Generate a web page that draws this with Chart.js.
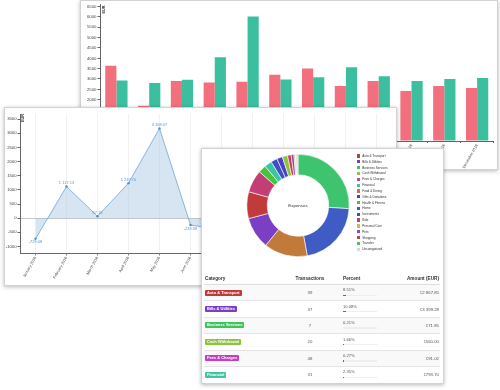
<!DOCTYPE html>
<html>
<head>
<meta charset="utf-8">
<script src="https://cdn.jsdelivr.net/npm/chart.js@4.4.1/dist/chart.umd.min.js"></script>
<style>
    html, body { margin: 0; padding: 0; background: #fff; width: 500px; height: 390px; overflow: hidden; }
    body { font-family: "Liberation Sans", Arial, sans-serif; position: relative; }
    .panel { position: absolute; background: #fff; border: 1px solid #d2d2d2; box-shadow: 0 1px 4px rgba(0, 0, 0, 0.28); overflow: hidden; box-sizing: border-box; }
    #barPanel { left: 80px; top: 0; width: 418px; height: 170px; }
    #linePanel { left: 4px; top: 107px; width: 393px; height: 179px; }
    #piePanel { left: 201px; top: 148px; width: 243px; height: 236px; }
    canvas { position: absolute; }
    #legend { position: absolute; left: 154.7px; top: 4.1px; font-size: 3.1px; color: #333; }
    #legend div { display: flex; align-items: center; height: 5.83px; white-space: nowrap; }
    #legend span.box { width: 3.3px; height: 3.3px; margin-right: 2.3px; display: inline-block; }
    #catTable { position: absolute; left: 2px; top: 123px; width: 236px; border-collapse: collapse; table-layout: fixed; }
    #catTable th { font-weight: bold; font-size: 4.7px; color: #333; height: 12px; border-bottom: 1.5px solid #ddd; padding: 0 1px; text-align: left; }
    #catTable td { height: 15.4px; border-top: 0.6px solid #e4e4e4; padding: 0 1px; vertical-align: middle; font-size: 4.3px; color: #555; }
    #catTable tr.odd td { background: #f9f9f9; }
    .badge { display: inline-block; color: #fff; font-weight: bold; font-size: 4px; height: 6px; line-height: 6px; padding: 0 2px; border-radius: 1px; white-space: nowrap; }
    .pct { font-size: 4.1px; color: #555; line-height: 4.6px; margin-top: -1px; }
    .track { width: 34px; height: 1.3px; background: #eee; margin-top: 1.6px; }
    .fill { height: 100%; background: #337ab7; }
    .amount { color: #e8677a; font-size: 4.6px; }
</style>
</head>
<body>
<div class="panel" id="barPanel">
    <canvas id="barChart" width="416" height="168" style="left:0;top:0;width:416px;height:168px"></canvas>
</div>
<div class="panel" id="linePanel">
    <canvas id="lineChart" width="391" height="177" style="left:0;top:0;width:391px;height:177px"></canvas>
</div>
<div class="panel" id="piePanel">
    <canvas id="pieChart" width="106" height="107" style="left:43px;top:3px;width:106px;height:107px"></canvas>
    <div id="legend"></div>
    <table id="catTable">
        <colgroup><col style="width:87px"><col style="width:38px"><col style="width:62px"><col style="width:49px"></colgroup>
        <thead><tr><th>Category</th><th style="text-align:center">Transactions</th><th style="padding-left:14px">Percent</th><th style="text-align:right">Amount (EUR)</th></tr></thead>
        <tbody id="catRows"></tbody>
    </table>
</div>
<script>
    const months = ["January 2018", "February 2018", "March 2018", "April 2018", "May 2018", "June 2018",
        "July 2018", "August 2018", "September 2018", "October 2018", "November 2018", "December 2018"];
    const expenseByMonth = [3635, 1700, 2900, 2830, 2865, 3200, 3505, 2657, 2898, 2417, 2657, 2561];
    const incomeByMonth = [2930, 2800, 2962, 4052, 6024, 2978, 3090, 3571, 3138, 2898, 2994, 3042];
    const balanceByMonth = [-729.08, 1117.13, 67.18, 1237.70, 3168.07, -239.38, -415, 914, 240, 481, 337, 481];
    const barTickValues = [0, 500, 1000, 1500, 2000, 2500, 3000, 3500, 4000, 4500, 5000, 5500, 6000, 6500];
    const lineTickValues = [-1000, -500, 0, 500, 1000, 1500, 2000, 2500, 3000, 3500];

    const categories = ["Auto & Transport", "Bills & Utilities", "Business Services", "Cash Withdrawal", "Fees & Charges",
        "Financial", "Food & Dining", "Gifts & Donations", "Health & Fitness", "Home", "Investments", "Kids",
        "Personal Care", "Pets", "Shopping", "Transfer", "Uncategorized"];
    const categoryAmounts = [2867.85, 3399.28, 71.85, 560.00, 91.02, 793.70, 4650, 610, 840, 7150, 680, 2400,
        150, 300, 380, 8800, 120];
    const categoryColors = ["#c23b3b", "#7b3fc4", "#3ec45c", "#8cc43e", "#c43fc0", "#3ec4a2", "#c27a3a", "#4b3fc4",
        "#46c43e", "#3e5cc4", "#3e4fc4", "#c43e76", "#c4c23e", "#9a3fc4", "#c43e4c", "#3ec46e", "#d2dade"];

    // only the first rows of the table are in view
    const tableTransactions = [39, 37, 7, 20, 48, 31];
    const tablePercents = [8.51, 10.08, 0.21, 1.66, 0.27, 2.35];

    const fontFamily = '"Liberation Sans", Arial, sans-serif';
    Chart.defaults.font.family = fontFamily;
    Chart.defaults.color = "#444";

    const formatAmount = (value) => {
        const [whole, cents] = Math.abs(value).toFixed(2).split(".");
        const grouped = whole.replace(/\B(?=(\d{3})+(?!\d))/g, " ");
        return (value < 0 ? "-" : "") + grouped + "." + cents;
    };

    const useTicks = (values) => (scale) => {
        scale.ticks = values.map((value) => ({ value }));
    };

    const unitLabel = (dx, dy) => ({
        id: "unitLabel",
        afterDraw(chart) {
            const { ctx, chartArea } = chart;
            ctx.save();
            ctx.translate(chartArea.left + dx, chartArea.top + dy);
            ctx.rotate(-Math.PI / 2);
            ctx.font = `bold 3.8px ${fontFamily}`;
            ctx.fillStyle = "#222";
            ctx.textAlign = "right";
            ctx.textBaseline = "middle";
            ctx.fillText("EUR", 0, 0);
            ctx.restore();
        }
    });

    // income vs expense bars
    new Chart(document.getElementById("barChart"), {
        type: "bar",
        data: {
            labels: months,
            datasets: [
                { label: "Expense", data: expenseByMonth, backgroundColor: "#f2707d" },
                { label: "Income", data: incomeByMonth, backgroundColor: "#3bbf9f" }
            ]
        },
        options: {
            responsive: false,
            animation: false,
            devicePixelRatio: 1,
            layout: { padding: { left: 0, right: 3.5, top: 3, bottom: 0 } },
            datasets: { bar: { categoryPercentage: 0.68, barPercentage: 1 } },
            plugins: { legend: { display: false }, tooltip: { enabled: false } },
            scales: {
                x: {
                    grid: { drawOnChartArea: false, tickLength: 2, tickColor: "#666" },
                    border: { color: "#666", width: 1 },
                    ticks: { font: { size: 3.8 }, minRotation: 60, maxRotation: 60, padding: 0.5, autoSkip: false },
                    afterFit: (s) => { s.height = 28; }
                },
                y: {
                    min: 0,
                    max: 6600,
                    grid: { drawOnChartArea: false, tickLength: 2.5, tickColor: "#666" },
                    border: { color: "#666", width: 1 },
                    ticks: { font: { size: 4.3 }, padding: 1, autoSkip: false, callback: (v) => String(v) },
                    afterBuildTicks: useTicks(barTickValues),
                    afterFit: (s) => { s.width = 19; }
                }
            }
        },
        plugins: [unitLabel(3.5, 1)]
    });

    // monthly balance line
    const pointLabels = {
        id: "pointLabels",
        afterDatasetsDraw(chart) {
            const { ctx } = chart;
            const meta = chart.getDatasetMeta(0);
            ctx.save();
            ctx.font = `4px ${fontFamily}`;
            ctx.fillStyle = "#5a95cf";
            ctx.textAlign = "center";
            meta.data.forEach((pt, i) => {
                const v = balanceByMonth[i];
                ctx.textBaseline = v < 0 ? "top" : "bottom";
                ctx.fillText(formatAmount(v), pt.x, v < 0 ? pt.y + 1.5 : pt.y - 1.5);
            });
            ctx.restore();
        }
    };

    new Chart(document.getElementById("lineChart"), {
        type: "line",
        data: {
            labels: months,
            datasets: [
                {
                    data: balanceByMonth,
                    borderColor: "#7eadda",
                    backgroundColor: "rgba(160, 193, 226, 0.42)",
                    fill: "origin",
                    tension: 0,
                    borderWidth: 0.9,
                    pointRadius: 1.2,
                    pointBackgroundColor: "#4f8cc9",
                    pointBorderWidth: 0
                }
            ]
        },
        options: {
            responsive: false,
            animation: false,
            devicePixelRatio: 1,
            layout: { padding: { left: 0, right: 3, top: 6, bottom: 0 } },
            plugins: { legend: { display: false }, tooltip: { enabled: false } },
            scales: {
                x: {
                    offset: true,
                    grid: { offset: false, color: "#efefef", lineWidth: 0.8, tickLength: 2.5, tickColor: "#666" },
                    border: { color: "#666", width: 1 },
                    ticks: { font: { size: 3.8 }, minRotation: 60, maxRotation: 60, padding: 0.5, autoSkip: false },
                    afterFit: (s) => { s.height = 32; }
                },
                y: {
                    min: -1230,
                    max: 3680,
                    grid: {
                        color: (c) => (c.tick && c.tick.value === 0 ? "#c8c8c8" : "rgba(0,0,0,0)"),
                        tickLength: 2.5,
                        tickColor: "#666"
                    },
                    border: { color: "#666", width: 1 },
                    ticks: { font: { size: 4.2 }, padding: 1, autoSkip: false, callback: (v) => String(v) },
                    afterBuildTicks: useTicks(lineTickValues),
                    afterFit: (s) => { s.width = 15; }
                }
            }
        },
        plugins: [unitLabel(2.5, 0), pointLabels]
    });

    // expenses by category, largest slice first
    const order = categories.map((_, i) => i).sort((a, b) => categoryAmounts[b] - categoryAmounts[a]);

    const centerText = {
        id: "centerText",
        afterDraw(chart) {
            const { ctx, chartArea } = chart;
            ctx.save();
            ctx.font = `4.4px ${fontFamily}`;
            ctx.fillStyle = "#333";
            ctx.textAlign = "center";
            ctx.textBaseline = "middle";
            ctx.fillText("Expenses", (chartArea.left + chartArea.right) / 2, (chartArea.top + chartArea.bottom) / 2);
            ctx.restore();
        }
    };

    new Chart(document.getElementById("pieChart"), {
        type: "doughnut",
        data: {
            labels: order.map((i) => categories[i]),
            datasets: [
                {
                    data: order.map((i) => categoryAmounts[i]),
                    backgroundColor: order.map((i) => categoryColors[i]),
                    borderColor: "#fff",
                    borderWidth: 0.6
                }
            ]
        },
        options: {
            responsive: false,
            animation: false,
            devicePixelRatio: 1,
            cutout: "60%",
            layout: { padding: 1.5 },
            plugins: { legend: { display: false }, tooltip: { enabled: false } }
        },
        plugins: [centerText]
    });

    const legendEl = document.getElementById("legend");
    categories.forEach((name, i) => {
        const row = document.createElement("div");
        row.innerHTML = `<span class="box" style="background:${categoryColors[i]}"></span>${name.replace("&", "&amp;")}`;
        legendEl.appendChild(row);
    });

    const rowsEl = document.getElementById("catRows");
    tableTransactions.forEach((count, i) => {
        const tr = document.createElement("tr");
        if (i % 2 === 0) tr.className = "odd";
        tr.innerHTML =
            `<td><span class="badge" style="background:${categoryColors[i]}">${categories[i].replace("&", "&amp;")}</span></td>` +
            `<td style="text-align:center">${count}</td>` +
            `<td style="padding-left:14px"><div class="pct">${tablePercents[i].toFixed(2)}%</div>` +
            `<div class="track"><div class="fill" style="width:${tablePercents[i]}%"></div></div></td>` +
            `<td style="text-align:right" class="amount">€${formatAmount(categoryAmounts[i])}</td>`;
        rowsEl.appendChild(tr);
    });
</script>
</body>
</html>
